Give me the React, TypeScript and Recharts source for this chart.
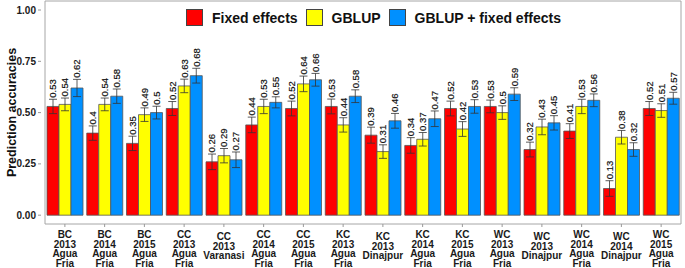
import React from 'react';
import {
  BarChart,
  Bar,
  XAxis,
  YAxis,
  ErrorBar,
  LabelList,
  Legend,
  ReferenceArea,
} from 'recharts';

const categories = [
  'BC\n2013\nAgua\nFria',
  'BC\n2014\nAgua\nFria',
  'BC\n2015\nAgua\nFria',
  'CC\n2013\nAgua\nFria',
  'CC\n2013\nVaranasi',
  'CC\n2014\nAgua\nFria',
  'CC\n2015\nAgua\nFria',
  'KC\n2013\nAgua\nFria',
  'KC\n2013\nDinajpur',
  'KC\n2014\nAgua\nFria',
  'KC\n2015\nAgua\nFria',
  'WC\n2013\nAgua\nFria',
  'WC\n2013\nDinajpur',
  'WC\n2014\nAgua\nFria',
  'WC\n2014\nDinajpur',
  'WC\n2015\nAgua\nFria',
];

const fixedEffects = [0.53, 0.4, 0.35, 0.52, 0.26, 0.44, 0.52, 0.53, 0.39, 0.34, 0.52, 0.53, 0.32, 0.41, 0.13, 0.52];
const gblup = [0.54, 0.54, 0.49, 0.63, 0.29, 0.53, 0.64, 0.44, 0.31, 0.37, 0.42, 0.5, 0.43, 0.53, 0.38, 0.51];
const gblupFixed = [0.62, 0.58, 0.5, 0.68, 0.27, 0.55, 0.66, 0.58, 0.46, 0.47, 0.53, 0.59, 0.45, 0.56, 0.32, 0.57];

// error bar half-widths
const fixedErr = [0.035, 0.035, 0.035, 0.034, 0.038, 0.038, 0.036, 0.036, 0.039, 0.038, 0.036, 0.031, 0.036, 0.036, 0.038, 0.034];
const gblupErr = [0.031, 0.031, 0.033, 0.033, 0.035, 0.035, 0.038, 0.035, 0.033, 0.033, 0.036, 0.033, 0.038, 0.035, 0.033, 0.033];
const gblupFixedErr = [0.042, 0.035, 0.031, 0.036, 0.038, 0.027, 0.031, 0.031, 0.036, 0.038, 0.033, 0.031, 0.035, 0.031, 0.033, 0.029];

const yTicks = [0, 0.25, 0.5, 0.75, 1];

const data = categories.map((cat, i) => ({
  cat,
  fixed: fixedEffects[i],
  fixedErr: fixedErr[i],
  gblup: gblup[i],
  gblupErr: gblupErr[i],
  combined: gblupFixed[i],
  combinedErr: gblupFixedErr[i],
}));

const FONT = '"Liberation Sans", Arial, sans-serif';

const CatTick = (props: any) => {
  const { x, y, payload } = props;
  const lines: string[] = String(payload.value).split('\n');
  const shift = lines.length < 4 ? 2 : 0;
  return (
    <text
      x={x}
      y={y}
      textAnchor="middle"
      fontSize={10}
      fontWeight="bold"
      fill="#1a1a1a"
      fontFamily={FONT}
    >
      {lines.map((l, i) => (
        <tspan key={i} x={x} y={y + 9 + shift + i * 9.6}>
          {l}
        </tspan>
      ))}
    </text>
  );
};

const makeLabel = (errs: number[]) => (props: any) => {
  const { x, y, width, height, value, index } = props;
  if (value == null || !height) return null;
  const top = y - errs[index] * (height / value);
  const cx = x + width / 2;
  const ly = top - 1.5;
  return (
    <text
      x={cx}
      y={ly}
      transform={`rotate(-90 ${cx} ${ly})`}
      textAnchor="start"
      dominantBaseline="central"
      fontSize={9.5}
      fill="#111"
      stroke="#111"
      strokeWidth={0.2}
      fontFamily={FONT}
    >
      {String(value)}
    </text>
  );
};

const LegendBox = (props: any) => {
  const { payload } = props;
  return (
    <div style={{ display: 'flex', alignItems: 'center', fontFamily: FONT }}>
      {(payload || []).map((entry: any, i: number) => (
        <div key={i} style={{ display: 'flex', alignItems: 'center', marginRight: 8 }}>
          <div
            style={{
              width: 15,
              height: 15,
              background: entry.color,
              border: '1px solid #444',
              marginRight: 9,
            }}
          />
          <span style={{ fontSize: 14, fontWeight: 'bold', color: '#111' }}>{entry.value}</span>
        </div>
      ))}
    </div>
  );
};

const YTitle = (props: any) => {
  const vb = props.viewBox || {};
  const cx = 12;
  const cy = (vb.y || 0) + (vb.height || 0) / 2;
  return (
    <text
      x={cx}
      y={cy}
      transform={`rotate(-90 ${cx} ${cy})`}
      textAnchor="middle"
      dominantBaseline="central"
      fontSize={12.5}
      fontWeight="bold"
      fill="#111"
      fontFamily={FONT}
    >
      Prediction accuracies
    </text>
  );
};

export default function App() {
  return (
    <div style={{ position: 'absolute', left: 0, top: 0, background: '#fff' }}>
      <BarChart
        width={685}
        height={268}
        data={data}
        margin={{ top: 1, right: 1, left: 0, bottom: 0 }}
        barCategoryGap={2}
        barGap={0}
        style={{ fontFamily: FONT }}
      >
        <XAxis
          dataKey="cat"
          interval={0}
          height={44}
          padding={{ left: 4, right: 3 }}
          axisLine={false}
          tickLine={{ stroke: '#999' }}
          tickSize={3}
          tickMargin={2}
          tick={<CatTick />}
        />
        <YAxis
          type="number"
          domain={[-0.043, 1.044]}
          allowDataOverflow
          ticks={yTicks}
          width={41}
          axisLine={false}
          tickLine={{ stroke: '#999' }}
          tickSize={3}
          tickMargin={2}
          tickFormatter={(v: number) => v.toFixed(2)}
          tick={{ fontSize: 10, fontWeight: 'bold', fill: '#1a1a1a', fontFamily: FONT }}
          label={<YTitle />}
        />
        <ReferenceArea
          y1={-0.043}
          y2={1.044}
          fill="none"
          stroke="#a6a6a6"
          strokeWidth={1}
          ifOverflow="visible"
        />
        <Legend
          layout="horizontal"
          verticalAlign="middle"
          align="center"
          content={<LegendBox />}
          wrapperStyle={{ top: 9, left: 186, width: 'auto', height: 'auto' }}
        />
        <Bar dataKey="fixed" name="Fixed effects" fill="#FF0000" stroke="#555" strokeWidth={0.8} isAnimationActive={false}>
          <ErrorBar dataKey="fixedErr" width={4} stroke="#333" strokeWidth={0.8} />
          <LabelList dataKey="fixed" content={makeLabel(fixedErr)} />
        </Bar>
        <Bar dataKey="gblup" name="GBLUP" fill="#FFFF00" stroke="#555" strokeWidth={0.8} isAnimationActive={false}>
          <ErrorBar dataKey="gblupErr" width={4} stroke="#333" strokeWidth={0.8} />
          <LabelList dataKey="gblup" content={makeLabel(gblupErr)} />
        </Bar>
        <Bar dataKey="combined" name="GBLUP + fixed effects" fill="#0090FF" stroke="#555" strokeWidth={0.8} isAnimationActive={false}>
          <ErrorBar dataKey="combinedErr" width={4} stroke="#333" strokeWidth={0.8} />
          <LabelList dataKey="combined" content={makeLabel(gblupFixedErr)} />
        </Bar>
      </BarChart>
    </div>
  );
}
